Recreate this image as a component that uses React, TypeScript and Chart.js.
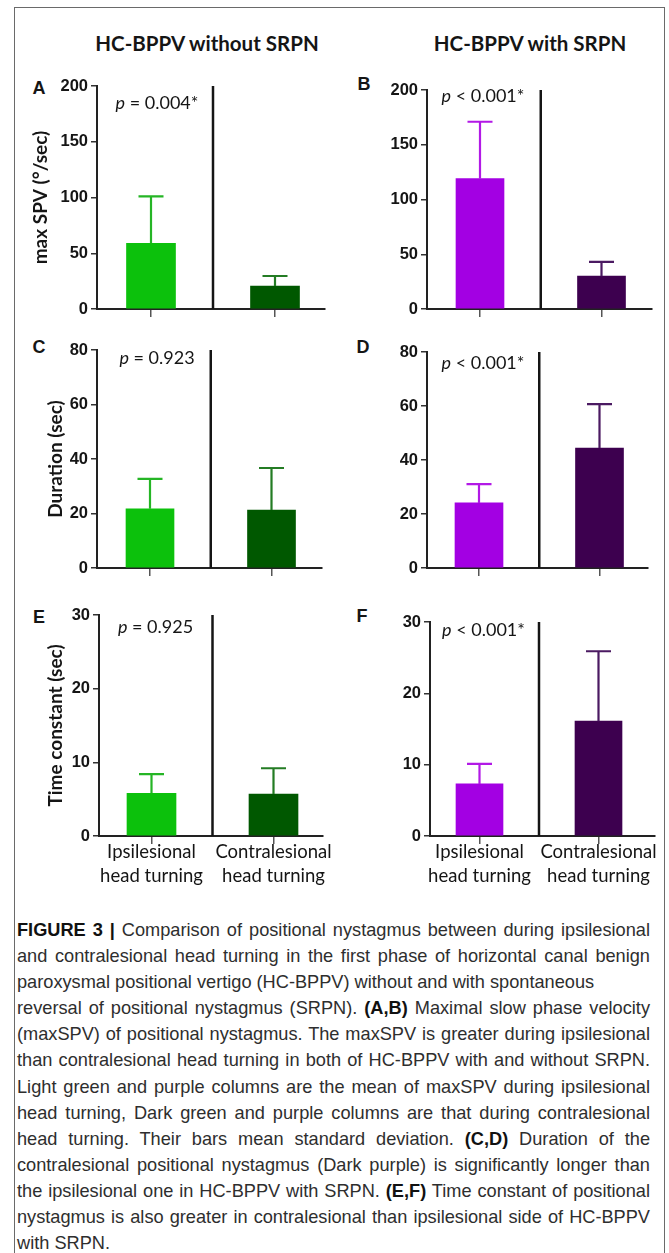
import React, { useEffect, useRef } from 'react';
import { Chart, registerables } from 'chart.js';

Chart.register(...registerables);

// ---------------- DATA ----------------
const CATEGORIES: string[][] = [
  ['Ipsilesional', 'head turning'],
  ['Contralesional', 'head turning'],
];
const COLUMN_TITLES = ['HC-BPPV without SRPN', 'HC-BPPV with SRPN'];
const PANEL_LETTERS = ['A', 'B', 'C', 'D', 'E', 'F'];
const Y_TITLES = ['max SPV (°/sec)', '', 'Duration (sec)', '', 'Time constant (sec)', ''];
const Y_MAX = [200, 200, 80, 80, 30, 30];
const Y_STEP = [50, 50, 20, 20, 10, 10];
const P_OPS = ['=', '<', '=', '<', '=', '<'];
const P_VALUES = ['0.004*', '0.001*', '0.923', '0.001*', '0.925', '0.001*'];

// means and standard deviations (ipsilesional, contralesional)
const MEAN_A = [59, 20.6];
const SD_A = [42, 9];
const MEAN_B = [119, 30];
const SD_B = [52, 13];
const MEAN_C = [21.7, 21.3];
const SD_C = [11, 15.4];
const MEAN_D = [24.1, 44.4];
const SD_D = [7, 16.3];
const MEAN_E = [5.8, 5.7];
const SD_E = [2.6, 3.5];
const MEAN_F = [7.3, 16.1];
const SD_F = [2.8, 9.8];

const MEANS = [MEAN_A, MEAN_B, MEAN_C, MEAN_D, MEAN_E, MEAN_F];
const SDS = [SD_A, SD_B, SD_C, SD_D, SD_E, SD_F];

// [plain, bold, plain, justified]
const CAPTION_LINES: [string, string, string, boolean][] = [
  ['', 'FIGURE 3 |', ' Comparison of positional nystagmus between during ipsilesional', true],
  ['and contralesional head turning in the first phase of horizontal canal benign', '', '', true],
  ['paroxysmal positional vertigo (HC-BPPV) without and with spontaneous', '', '', false],
  ['reversal of positional nystagmus (SRPN). ', '(A,B)', ' Maximal slow phase velocity', true],
  ['(maxSPV) of positional nystagmus. The maxSPV is greater during ipsilesional', '', '', true],
  ['than contralesional head turning in both of HC-BPPV with and without SRPN.', '', '', true],
  ['Light green and purple columns are the mean of maxSPV during ipsilesional', '', '', true],
  ['head turning, Dark green and purple columns are that during contralesional', '', '', true],
  ['head turning. Their bars mean standard deviation. ', '(C,D)', ' Duration of the', true],
  ['contralesional positional nystagmus (Dark purple) is significantly longer than', '', '', true],
  ['the ipsilesional one in HC-BPPV with SRPN. ', '(E,F)', ' Time constant of positional', true],
  ['nystagmus is also greater in contralesional than ipsilesional side of HC-BPPV', '', '', true],
  ['with SRPN.', '', '', false],
];

// ---------------- STYLE / LAYOUT ----------------
const BAR_COLORS = [
  ['#0cc10c', '#005800'],
  ['#a300e3', '#3d004f'],
];
const ERR_COLORS = [
  ['#25b525', '#247c24'],
  ['#b219e6', '#4b1a62'],
];

type Geom = {
  L: number; T: number; R: number; B: number;
  c0: number; c1: number; bw: number;
  titleX?: number; pdx: number; pdy: number;
};

const GEOM: Geom[] = [
  { L: 97, T: 86, R: 325, B: 309, c0: 151, c1: 275, bw: 49, titleX: 41, pdx: 6, pdy: 17 },
  { L: 427, T: 90, R: 652, B: 309, c0: 480, c1: 601.5, bw: 48, pdx: 3, pdy: 6 },
  { L: 97, T: 350, R: 322, B: 568, c0: 150, c1: 271.5, bw: 48, titleX: 55.5, pdx: 7, pdy: 8 },
  { L: 427, T: 352, R: 648, B: 568, c0: 479, c1: 599.5, bw: 48, pdx: 4, pdy: 11 },
  { L: 99, T: 615, R: 323, B: 836, c0: 151.5, c1: 273.5, bw: 49, titleX: 56, pdx: 4, pdy: 12 },
  { L: 430, T: 622, R: 655, B: 836, c0: 479.5, c1: 598.5, bw: 47, pdx: 4, pdy: 8 },
];

const LETTER_POS = [
  [39, 88], [364, 84], [39, 347], [363, 347], [39, 617], [362, 616],
];

const CW = 669;
const CH = 900;
const TITLE_SIZE = 19;
const X_H = 70;
const CAP_SCALE = 0.983;
const CAP_W = 633;

function Panel({ idx }: { idx: number }) {
  const ref = useRef<HTMLCanvasElement | null>(null);
  useEffect(() => {
    const canvas = ref.current;
    if (!canvas) return;
    const g = GEOM[idx];
    const col = idx % 2;
    const showCats = idx >= 4;
    const means = MEANS[idx];
    const sds = SDS[idx];
    const title = Y_TITLES[idx];
    const padLeft = g.titleX ? g.titleX - (TITLE_SIZE * 1.2) / 2 : g.L - 60;
    const yW = g.L - padLeft;
    const span = g.c1 - g.c0;

    const plugin = {
      id: 'extras' + idx,
      afterDatasetsDraw(chart: any) {
        const { ctx, chartArea } = chart;
        const xs = chart.scales.x;
        const ys = chart.scales.y;
        ctx.save();
        // divider
        const xd = xs.getPixelForValue(0.5);
        ctx.strokeStyle = '#151515';
        ctx.lineWidth = 2.5;
        ctx.beginPath();
        ctx.moveTo(xd, chartArea.top);
        ctx.lineTo(xd, chartArea.bottom);
        ctx.stroke();
        // error bars
        for (let i = 0; i < means.length; i++) {
          const x = xs.getPixelForValue(i);
          const y0 = ys.getPixelForValue(means[i]);
          const y1 = ys.getPixelForValue(means[i] + sds[i]);
          ctx.strokeStyle = ERR_COLORS[col][i];
          ctx.lineWidth = 2.2;
          ctx.beginPath();
          ctx.moveTo(x, y0);
          ctx.lineTo(x, y1);
          ctx.moveTo(x - 12.5, y1);
          ctx.lineTo(x + 12.5, y1);
          ctx.stroke();
        }
        // p value
        const pc = xs.getPixelForValue(0) + g.pdx;
        const py = chartArea.top + g.pdy;
        ctx.fillStyle = '#151515';
        ctx.textBaseline = 'middle';
        ctx.font = 'italic 18px Lato';
        const pW = ctx.measureText('p').width;
        ctx.font = '18px Lato';
        const rest = ' ' + P_OPS[idx] + ' ' + P_VALUES[idx];
        const rW = ctx.measureText(rest).width;
        const start = pc - (pW + rW) / 2;
        ctx.font = 'italic 18px Lato';
        ctx.textAlign = 'left';
        ctx.fillText('p', start, py);
        ctx.font = '18px Lato';
        ctx.fillText(rest, start + pW, py);
        ctx.restore();
      },
    };

    const chart = new Chart(canvas, {
      type: 'bar',
      data: {
        datasets: [
          {
            data: means.map((m, i) => ({ x: i, y: m })),
            backgroundColor: BAR_COLORS[col],
            borderWidth: 0,
            barThickness: g.bw,
          } as any,
        ],
      },
      options: {
        animation: false,
        responsive: false,
        maintainAspectRatio: false,
        events: [],
        layout: {
          padding: {
            left: padLeft,
            top: g.T,
            right: CW - g.R,
            bottom: CH - g.B - X_H,
          },
        },
        plugins: {
          legend: { display: false },
          tooltip: { enabled: false },
          title: { display: false },
        },
        scales: {
          x: {
            type: 'linear',
            min: (g.L - g.c0) / span,
            max: (g.R - g.c0) / span,
            offset: false,
            afterBuildTicks: (s: any) => {
              s.ticks = [{ value: 0 }, { value: 1 }];
            },
            afterFit: (s: any) => {
              s.height = X_H;
            },
            ticks: {
              callback: (v: any) => (showCats ? CATEGORIES[v as number] : ''),
              font: { family: 'Lato', size: 18.5, lineHeight: 1.3 },
              color: '#151515',
              padding: -4,
              maxRotation: 0,
              minRotation: 0,
              autoSkip: false,
            },
            grid: {
              drawOnChartArea: false,
              drawTicks: true,
              tickLength: 8,
              color: '#555',
              lineWidth: 1.5,
              offset: false,
            },
            border: { display: true, color: '#222', width: 2 },
          },
          y: {
            min: 0,
            max: Y_MAX[idx],
            afterFit: (s: any) => {
              s.width = yW;
            },
            ticks: {
              stepSize: Y_STEP[idx],
              font: { family: 'Liberation Sans', weight: 'bold', size: 16.5 },
              color: '#151515',
              padding: 3,
            },
            title: {
              display: !!title,
              text: title,
              font: { family: 'Lato', weight: 'bold', size: TITLE_SIZE, lineHeight: 1.2 },
              color: '#151515',
              padding: 0,
            },
            grid: {
              drawOnChartArea: false,
              drawTicks: true,
              tickLength: 6,
              color: '#333',
              lineWidth: 1.5,
            },
            border: { display: true, color: '#222', width: 2 },
          },
        },
      } as any,
      plugins: [plugin],
    });
    return () => chart.destroy();
  }, [idx]);

  return (
    <canvas
      ref={ref}
      width={CW}
      height={CH}
      style={{ position: 'absolute', left: 0, top: 0, width: CW, height: CH, pointerEvents: 'none' }}
    />
  );
}

export default function App() {
  return (
    <div
      style={{
        position: 'absolute',
        left: 0,
        top: 0,
        width: CW,
        height: 1253,
        background: '#fff',
        overflow: 'hidden',
      }}
    >
      <div
        style={{
          position: 'absolute',
          left: 14,
          top: 7,
          width: 651,
          height: 1270,
          border: '1.5px solid #6a6a6a',
          boxSizing: 'border-box',
        }}
      />
      {COLUMN_TITLES.map((t, i) => (
        <div
          key={t}
          style={{
            position: 'absolute',
            left: (i === 0 ? 207 : 530) - 150,
            top: 30,
            width: 300,
            textAlign: 'center',
            fontFamily: 'Lato',
            fontWeight: 'bold',
            fontSize: 20.5,
            lineHeight: '26px',
            color: '#151515',
          }}
        >
          {t}
        </div>
      ))}
      {PANEL_LETTERS.map((l, i) => (
        <div
          key={l}
          style={{
            position: 'absolute',
            left: LETTER_POS[i][0] - 15,
            top: LETTER_POS[i][1] - 12,
            width: 30,
            textAlign: 'center',
            fontFamily: 'Liberation Sans',
            fontWeight: 'bold',
            fontSize: 18,
            lineHeight: '24px',
            color: '#151515',
          }}
        >
          {l}
        </div>
      ))}
      {[0, 1, 2, 3, 4, 5].map((i) => (
        <Panel key={i} idx={i} />
      ))}
      <div
        style={{
          position: 'absolute',
          left: 17,
          top: 917,
          width: CAP_W / CAP_SCALE,
          transform: `scaleX(${CAP_SCALE})`,
          transformOrigin: '0 0',
          fontFamily: "'Liberation Sans', Arial, sans-serif",
          fontSize: 18.5,
          lineHeight: '26.1px',
          color: '#2e2e2e',
        }}
      >
        {CAPTION_LINES.map((ln, i) => (
          <div
            key={i}
            style={{
              whiteSpace: 'nowrap',
              textAlign: ln[3] ? 'justify' : 'left',
              textAlignLast: ln[3] ? 'justify' : 'left',
            } as any}
          >
            {ln[0]}
            {ln[1] ? <b style={{ color: '#111' }}>{ln[1]}</b> : null}
            {ln[2]}
          </div>
        ))}
      </div>
    </div>
  );
}
